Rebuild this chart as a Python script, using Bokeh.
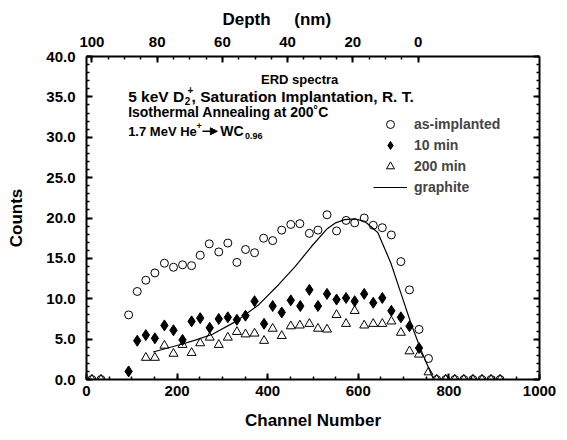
from bokeh.plotting import figure
from bokeh.models import (Range1d, LinearAxis, FixedTicker, PrintfTickFormatter,
                          Label, Legend, LegendItem, Arrow, NormalHead,
                          CustomLabelingPolicy)
from bokeh.embed import file_html
from bokeh.resources import INLINE

FONT = "Liberation Sans"

# ---------------- data ----------------
ch_as = [12, 32, 93, 112, 131, 151, 172, 192, 212, 232, 251, 271, 292, 312, 332, 351,
         371, 391, 411, 431, 451, 471, 492, 511, 531, 552, 573, 592, 613, 633, 653, 673,
         694, 713, 734, 755, 773, 793, 813, 833, 853, 873, 893, 913]
cnt_as = [0, 0, 8.0, 10.9, 12.3, 13.2, 14.4, 13.9, 14.2, 14.1, 15.4, 16.8, 15.8, 16.9,
          14.5, 16.1, 15.7, 17.5, 17.2, 18.5, 19.2, 19.3, 18.1, 18.5, 20.4, 18.4, 19.7,
          19.4, 20.0, 19.1, 18.8, 17.9, 14.6, 11.1, 6.2, 2.6, 0, 0, 0, 0, 0, 0, 0, 0]

ch_10 = [93, 112, 131, 151, 172, 192, 212, 232, 251, 272, 292, 312, 332, 351, 371, 392,
         411, 431, 451, 472, 492, 511, 531, 552, 573, 592, 613, 633, 653, 673, 694, 713, 734]
cnt_10 = [1.0, 4.8, 5.5, 5.1, 6.7, 6.1, 4.9, 7.2, 7.6, 6.4, 7.5, 7.7, 7.4, 7.9, 9.7, 6.9,
          9.1, 8.3, 9.8, 9.1, 11.1, 9.1, 10.6, 9.9, 10.1, 9.7, 10.6, 9.5, 10.1, 8.5, 7.7,
          6.6, 3.9]

ch_200 = [12, 32, 131, 151, 172, 192, 212, 232, 251, 272, 292, 312, 332, 351, 371, 392,
          411, 431, 451, 471, 492, 511, 531, 552, 573, 592, 613, 633, 653, 673, 694, 713,
          734, 755, 773, 793, 813, 833, 853, 873, 893, 913]
cnt_200 = [0, 0, 2.7, 2.7, 4.2, 3.2, 4.3, 3.3, 4.5, 5.2, 4.3, 5.2, 5.9, 5.6, 5.7, 4.8,
           6.3, 5.4, 6.6, 6.7, 6.9, 6.3, 6.2, 8.0, 6.9, 8.5, 6.7, 6.9, 6.9, 7.2, 5.8, 3.5,
           3.1, 0.9, 0, 0, 0, 0, 0, 0, 0, 0]

ch_gr = [147, 206, 242, 278, 330, 381, 425, 461, 497, 530, 550, 570, 592, 614, 643, 672,
         694, 716, 738, 760, 765]
cnt_gr = [3.4, 4.3, 4.9, 5.6, 7.2, 9.3, 11.8, 14.0, 16.5, 18.6, 19.4, 19.8, 19.9, 19.6,
          18.2, 14.4, 10.7, 7.0, 3.7, 0.8, 0.2]

x_ticks = [0, 200, 400, 600, 800, 1000]
y_ticks = [0, 5, 10, 15, 20, 25, 30, 35, 40]
depth_ticks = [100, 80, 60, 40, 20, 0]
depth_zero_channel = 732.0
channels_per_nm = 7.2

# ---------------- figure ----------------
p = figure(width=559, height=432, x_range=Range1d(0, 1000), y_range=Range1d(0, 40),
           output_backend="svg", toolbar_location=None,
           min_border_left=86, min_border_right=16, min_border_top=56, min_border_bottom=52)
p.grid.visible = False
p.outline_line_color = None
p.background_fill_color = "white"
p.border_fill_color = "white"

p.title.text = "Depth \u00a0\u00a0\u00a0 (nm)"
p.title.align = "left"
p.title.offset = 136
p.title.text_font = FONT
p.title.text_font_style = "bold"
p.title.text_font_size = "17px"
p.title.text_color = "black"
p.title.standoff = 9


def style_axis(ax, label_size="15px"):
    ax.axis_line_width = 2
    ax.major_tick_line_width = 2
    ax.minor_tick_line_width = 1.5
    ax.major_tick_in = 6
    ax.major_tick_out = 0
    ax.minor_tick_in = 3
    ax.minor_tick_out = 0
    ax.major_label_text_font = FONT
    ax.major_label_text_font_style = "bold"
    ax.major_label_text_font_size = label_size
    ax.major_label_text_color = "black"
    ax.axis_label_text_font = FONT
    ax.axis_label_text_font_style = "bold"
    ax.axis_label_text_font_size = "17px"
    ax.axis_label_text_color = "black"


xa = p.xaxis[0]
xa.ticker = FixedTicker(ticks=x_ticks, minor_ticks=list(range(0, 1001, 50)))
xa.axis_label = "Channel Number"
style_axis(xa)
xa.major_label_standoff = 6
xa.axis_label_standoff = 12

ya = p.yaxis[0]
ya.ticker = FixedTicker(ticks=y_ticks, minor_ticks=list(range(0, 41, 1)))
ya.formatter = PrintfTickFormatter(format="%.1f")
ya.axis_label = "Counts"
style_axis(ya)
ya.major_label_standoff = 11
ya.axis_label_standoff = 17

# right mirror axis (ticks only, no labels)
ra = LinearAxis(ticker=FixedTicker(ticks=y_ticks, minor_ticks=list(range(0, 41, 1))))
style_axis(ra)
ra.major_label_policy = CustomLabelingPolicy(
    code="for (const i of indices) indices.unset(i); return indices")
ra.major_label_standoff = 0
p.add_layout(ra, "right")

# top depth axis
d_start = depth_zero_channel / channels_per_nm
d_end = (depth_zero_channel - 1000) / channels_per_nm
p.extra_x_ranges = {"depth": Range1d(d_start, d_end)}
ta = LinearAxis(x_range_name="depth",
                ticker=FixedTicker(ticks=depth_ticks, minor_ticks=list(range(0, 101, 5))))
style_axis(ta)
ta.major_label_standoff = 10
p.add_layout(ta, "above")

# ---------------- data glyphs ----------------
r_as = p.scatter(ch_as, cnt_as, marker="circle", size=8, fill_color=None,
                 line_color="black", line_width=1)
r_10 = p.scatter(ch_10, cnt_10, marker="diamond", size=11, fill_color="black",
                 line_color="black", line_width=1)
r_200 = p.scatter(ch_200, cnt_200, marker="triangle", size=9, fill_color=None,
                  line_color="black", line_width=1)
r_gr = p.line(ch_gr, cnt_gr, line_color="black", line_width=1.2)

legend = Legend(items=[LegendItem(label="as-implanted", renderers=[r_as]),
                       LegendItem(label="10 min", renderers=[r_10]),
                       LegendItem(label="200 min", renderers=[r_200]),
                       LegendItem(label="graphite", renderers=[r_gr])],
                location=(287, 182), glyph_width=34, glyph_height=20, label_height=20,
                label_standoff=7, spacing=1, padding=0, margin=0,
                border_line_color=None, background_fill_alpha=0,
                label_text_font=FONT, label_text_font_style="bold",
                label_text_font_size="14px")
p.add_layout(legend)


# ---------------- annotations ----------------
def cx(px):
    return (px - 86) / 0.457


def cy(py):
    return (380 - py) / 8.1


def lab(x, y, text, size="14px", align="left"):
    p.add_layout(Label(x=cx(x), y=cy(y), text=text, text_font=FONT,
                       text_font_style="bold", text_font_size=size,
                       text_align=align, text_baseline="middle", text_color="black"))


lab(301, 79, "ERD spectra", size="13px", align="center")
lab(128, 96, "5 keV D", size="15.5px")
lab(185, 101, "2", size="10px")
lab(188, 90, "+", size="10px")
lab(192, 96, ", Saturation Implantation, R. T.", size="15.5px")
lab(128, 112, "Isothermal Annealing at 200\u02daC", size="14px")
lab(128, 131, "1.7 MeV He", size="13px")
lab(197, 126, "+", size="9px")
p.add_layout(Arrow(end=NormalHead(size=7, fill_color="black", line_color="black"),
                   x_start=cx(203), y_start=cy(131), x_end=cx(218), y_end=cy(131),
                   line_color="black", line_width=1.5))
lab(221, 131, "WC", size="14px")
lab(246, 136, "0.96", size="9px")

open("out.html", "w").write(file_html(p, INLINE))
